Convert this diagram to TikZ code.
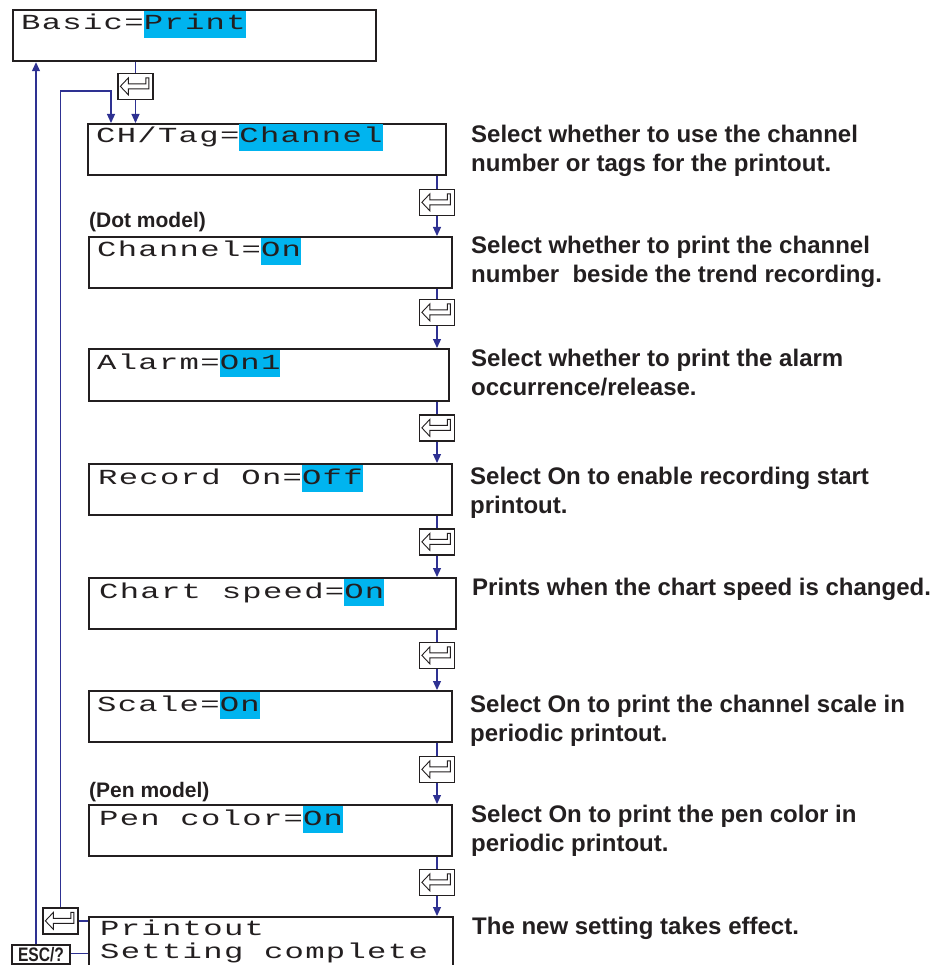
\documentclass[tikz,border=0pt]{standalone}
\usepackage{fontspec}
\usepackage{graphicx}
\usetikzlibrary{arrows.meta}
\newfontfamily\lcdfont[LetterSpace=4]{Liberation Mono}
\newfontfamily\descfont{Liberation Sans}
\definecolor{hlc}{HTML}{00B4EF}
\definecolor{conc}{HTML}{2E3192}
\definecolor{inkc}{HTML}{231F20}
\newcommand\hlv[1]{{\setlength{\fboxsep}{0pt}\colorbox{hlc}{\rule[-8pt]{0pt}{27pt}#1}}}
\newcommand\lcdline[1]{\scalebox{1.5}[1]{#1}}
\tikzset{
  lcdbox/.style={draw=inkc, line width=2.2pt, anchor=north west, inner sep=0pt, minimum height=51pt},
  lcdtxt/.style={anchor=base west, inner sep=0pt, text=inkc, font=\lcdfont\fontsize{21.5}{23}\selectfont},
  desc/.style={anchor=base west, inner sep=0pt, align=left, text=inkc, font=\descfont\bfseries\fontsize{24}{29}\selectfont},
  model/.style={anchor=base west, inner sep=0pt, text=inkc, font=\descfont\bfseries\fontsize{21}{24}\selectfont},
  enterkey/.style={draw=inkc, line width=1.3pt, minimum width=35pt, minimum height=26pt, inner sep=0pt, fill=white},
  entersym/.style={draw=inkc, line width=0.9pt},
  esckey/.style={draw=inkc, line width=1.3pt, minimum width=58pt, minimum height=19pt, inner sep=0pt, fill=white},
  esctxt/.style={anchor=base, inner sep=0pt, text=inkc, font=\descfont\bfseries\fontsize{19.5}{22}\selectfont},
  conn/.style={draw=conc, line width=1.2pt},
  arr/.style={-{Triangle[length=9pt,width=8pt]}, color=conc}
}
\begin{document}
\begin{tikzpicture}[x=1pt, y=-1pt]
\useasboundingbox (0,0) rectangle (937,965);
% LCD boxes
\node[lcdbox, minimum width=363pt] (b0) at (12,9) {};
\node[lcdbox, minimum width=358pt] (b1) at (87,123) {};
\node[lcdbox, minimum width=363pt] (b2) at (88,236) {};
\node[lcdbox, minimum width=360pt, minimum height=52pt] (b3) at (88,348) {};
\node[lcdbox, minimum width=363pt] (b4) at (88,463) {};
\node[lcdbox, minimum width=367pt] (b5) at (88,577) {};
\node[lcdbox, minimum width=363pt] (b6) at (88,690) {};
\node[lcdbox, minimum width=363pt] (b7) at (88,804) {};
\node[lcdbox, minimum width=364pt, minimum height=62pt] (b8) at (88,916) {};
% LCD texts
\node[lcdtxt] (t0) at (21,30) {\lcdline{Basic=\hlv{Print}}};
\node[lcdtxt] (t1) at (96,143) {\lcdline{CH/Tag=\hlv{Channel}}};
\node[lcdtxt] (t2) at (97,257) {\lcdline{Channel=\hlv{On}}};
\node[lcdtxt] (t3) at (97,369) {\lcdline{Alarm=\hlv{On1}}};
\node[lcdtxt] (t4) at (98,484) {\lcdline{Record On=\hlv{Off}}};
\node[lcdtxt] (t5) at (99,598) {\lcdline{Chart speed=\hlv{On}}};
\node[lcdtxt] (t6) at (97,711) {\lcdline{Scale=\hlv{On}}};
\node[lcdtxt] (t7) at (99,825) {\lcdline{Pen color=\hlv{On}}};
\node[lcdtxt, align=left] (t8) at (100,958) {\lcdline{Printout}\\\lcdline{Setting complete}};
% model labels
\node[model] (m1) at (89,228) {(Dot model)};
\node[model] (m2) at (89,797) {(Pen model)};
% descriptions (anchor = baseline of last line)
\node[desc] (d1) at (471,172) {Select whether to use the channel\\number or tags for the printout.};
\node[desc] (d2) at (471,283) {Select whether to print the channel\\number\ \ beside the trend recording.};
\node[desc] (d3) at (471,395) {Select whether to print the alarm\\occurrence/release.};
\node[desc] (d4) at (470,513) {Select On to enable recording start\\printout.};
\node[desc] (d5) at (472,595) {Prints when the chart speed is changed.};
\node[desc] (d6) at (470,741) {Select On to print the channel scale in\\periodic printout.};
\node[desc] (d7) at (471,851) {Select On to print the pen color in\\periodic printout.};
\node[desc] (d8) at (472,934) {The new setting takes effect.};
% enter keys
\node[enterkey] (k0) at (135.5,86.5) {};
\node[enterkey] (k1) at (437,202.5) {};
\node[enterkey] (k2) at (437,312.5) {};
\node[enterkey] (k3) at (437,428) {};
\node[enterkey] (k4) at (437,542) {};
\node[enterkey] (k5) at (437,655.5) {};
\node[enterkey] (k6) at (437,769.5) {};
\node[enterkey] (k7) at (437,882.5) {};
\node[enterkey] (kL) at (60.5,921) {};
\foreach \k in {k0,k1,k2,k3,k4,k5,k6,k7,kL}{
  \draw[entersym, shift={(\k.north west)}] (3,13.5) -- (11,5) -- (11,11) -- (28.5,11) -- (28.5,5) -- (31.5,5) -- (31.5,16) -- (11,16) -- (11,22) -- cycle;
}
\node[esckey] (esc) at (41,954.5) {};
\node[esctxt] (esct) at (41,961) {\scalebox{0.8}[1]{ESC/?}};
% connectors
\draw[conn] (b0.south -| k0) -- (k0.north);
\draw[conn, arr] (k0.south) -- (b1.north -| k0);
\draw[conn] (b1.south -| k1) -- (k1.north);
\draw[conn, arr] (k1.south) -- (b2.north -| k1);
\draw[conn] (b2.south -| k2) -- (k2.north);
\draw[conn, arr] (k2.south) -- (b3.north -| k2);
\draw[conn] (b3.south -| k3) -- (k3.north);
\draw[conn, arr] (k3.south) -- (b4.north -| k3);
\draw[conn] (b4.south -| k4) -- (k4.north);
\draw[conn, arr] (k4.south) -- (b5.north -| k4);
\draw[conn] (b5.south -| k5) -- (k5.north);
\draw[conn, arr] (k5.south) -- (b6.north -| k5);
\draw[conn] (b6.south -| k6) -- (k6.north);
\draw[conn, arr] (k6.south) -- (b7.north -| k6);
\draw[conn] (b7.south -| k7) -- (k7.north);
\draw[conn, arr] (k7.south) -- (b8.north -| k7);
% loop back to CH/Tag
\coordinate (lp) at (111,91);
\draw[conn, arr] (kL.north) |- (lp) -- (lp |- b1.north);
% ESC back to Basic
\draw[conn, arr] ([xshift=-5pt]esc.north) -- ([xshift=-5pt]esc.north |- b0.south);
% side connectors to final box
\draw[conn] (kL.east) -- (kL.east -| b8.west);
\draw[conn] ([yshift=1pt]esc.east) -- ([yshift=1pt]esc.east -| b8.west);
\end{tikzpicture}
\end{document}
